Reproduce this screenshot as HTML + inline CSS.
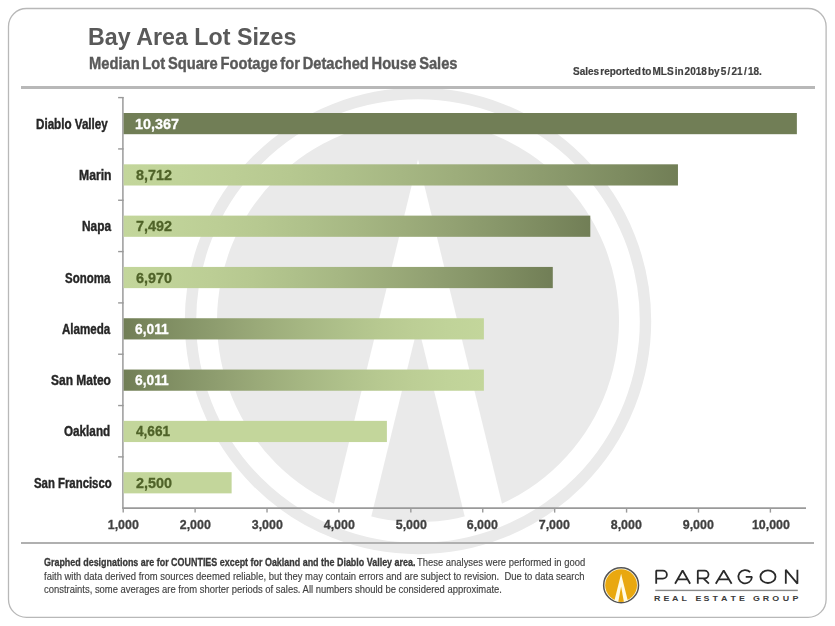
<!DOCTYPE html>
<html><head><meta charset="utf-8"><style>
html,body{margin:0;padding:0;background:#fff;}
body{width:835px;height:626px;position:relative;overflow:hidden;font-family:"Liberation Sans",sans-serif;}
</style></head><body>
<svg width="835" height="626" style="position:absolute;left:0;top:0">
<defs><mask id="am"><rect width="835" height="626" fill="#fff"/><polygon points="418,159.5 549.9,700 286.1,700" fill="#000"/><polygon points="418,325 509.5,700 326.5,700" fill="#fff"/></mask></defs>
<circle cx="418" cy="321" r="227.5" fill="none" stroke="#eaeaea" stroke-width="11.399999999999977"/>
<circle cx="418" cy="321" r="201" fill="#eaeaea" mask="url(#am)"/>
</svg>
<svg width="835" height="626" style="position:absolute;left:0;top:0"><rect x="8.5" y="8.5" width="817.6" height="608.9" rx="18" ry="18" fill="none" stroke="#b8b8b8" stroke-width="1.3"/></svg>
<div style="position:absolute;left:21.2px;top:86px;width:793.5px;height:2.8px;background:#b8b8b8"></div>
<div style="position:absolute;left:21.2px;top:541.7px;width:793.2px;height:2.6px;background:#b0b0b0"></div>
<svg width="835" height="626" style="position:absolute;left:0;top:0"><g stroke="#9a9a9a" fill="none"><line x1="122.9" y1="97.0" x2="122.9" y2="508.2" stroke-width="1.5"/><line x1="122.2" y1="508.1" x2="806" y2="508.1" stroke-width="1.7"/><line x1="118.1" y1="97.60" x2="123.6" y2="97.60" stroke-width="1.4"/><line x1="118.1" y1="148.93" x2="123.6" y2="148.93" stroke-width="1.4"/><line x1="118.1" y1="200.25" x2="123.6" y2="200.25" stroke-width="1.4"/><line x1="118.1" y1="251.58" x2="123.6" y2="251.58" stroke-width="1.4"/><line x1="118.1" y1="302.90" x2="123.6" y2="302.90" stroke-width="1.4"/><line x1="118.1" y1="354.23" x2="123.6" y2="354.23" stroke-width="1.4"/><line x1="118.1" y1="405.55" x2="123.6" y2="405.55" stroke-width="1.4"/><line x1="118.1" y1="456.88" x2="123.6" y2="456.88" stroke-width="1.4"/><line x1="123.20" y1="508" x2="123.20" y2="512.6" stroke-width="1.4"/><line x1="195.11" y1="508" x2="195.11" y2="512.6" stroke-width="1.4"/><line x1="267.02" y1="508" x2="267.02" y2="512.6" stroke-width="1.4"/><line x1="338.93" y1="508" x2="338.93" y2="512.6" stroke-width="1.4"/><line x1="410.84" y1="508" x2="410.84" y2="512.6" stroke-width="1.4"/><line x1="482.75" y1="508" x2="482.75" y2="512.6" stroke-width="1.4"/><line x1="554.66" y1="508" x2="554.66" y2="512.6" stroke-width="1.4"/><line x1="626.57" y1="508" x2="626.57" y2="512.6" stroke-width="1.4"/><line x1="698.48" y1="508" x2="698.48" y2="512.6" stroke-width="1.4"/><line x1="770.39" y1="508" x2="770.39" y2="512.6" stroke-width="1.4"/></g></svg>
<svg width="835" height="626" style="position:absolute;left:0;top:0"><defs><linearGradient id="gl2d" x1="0" y1="0" x2="1" y2="0"><stop offset="0.00" stop-color="rgb(195,214,155)"/><stop offset="0.10" stop-color="rgb(192,211,153)"/><stop offset="0.20" stop-color="rgb(188,206,149)"/><stop offset="0.30" stop-color="rgb(182,200,144)"/><stop offset="0.40" stop-color="rgb(174,192,138)"/><stop offset="0.50" stop-color="rgb(166,183,131)"/><stop offset="0.60" stop-color="rgb(157,173,123)"/><stop offset="0.70" stop-color="rgb(147,162,115)"/><stop offset="0.80" stop-color="rgb(136,151,106)"/><stop offset="0.90" stop-color="rgb(125,139,96)"/><stop offset="1.00" stop-color="rgb(113,126,86)"/></linearGradient><linearGradient id="gd2l" x1="0" y1="0" x2="1" y2="0"><stop offset="0.00" stop-color="rgb(113,126,86)"/><stop offset="0.10" stop-color="rgb(125,139,96)"/><stop offset="0.20" stop-color="rgb(136,151,106)"/><stop offset="0.30" stop-color="rgb(147,162,115)"/><stop offset="0.40" stop-color="rgb(157,173,123)"/><stop offset="0.50" stop-color="rgb(166,183,131)"/><stop offset="0.60" stop-color="rgb(174,192,138)"/><stop offset="0.70" stop-color="rgb(182,200,144)"/><stop offset="0.80" stop-color="rgb(188,206,149)"/><stop offset="0.90" stop-color="rgb(192,211,153)"/><stop offset="1.00" stop-color="rgb(195,214,155)"/></linearGradient></defs><rect x="123.6" y="113.00" width="673.27" height="21.2" fill="#717e56"/><rect x="123.6" y="164.31" width="554.36" height="21.2" fill="url(#gl2d)"/><rect x="123.6" y="215.62" width="466.70" height="21.2" fill="url(#gl2d)"/><rect x="123.6" y="266.93" width="429.19" height="21.2" fill="url(#gl2d)"/><rect x="123.6" y="318.24" width="360.29" height="21.2" fill="url(#gd2l)"/><rect x="123.6" y="369.55" width="360.29" height="21.2" fill="url(#gd2l)"/><rect x="123.6" y="420.86" width="263.29" height="21.2" fill="#c3d69b"/><rect x="123.6" y="472.17" width="108.03" height="21.2" fill="#c3d69b"/></svg>
<div style="position:absolute;left:87.68px;top:26.00px;white-space:nowrap;color:#595959;transform-origin:0 0;transform:scaleX(1.0101);font-size:23px;line-height:23px;font-weight:bold;">Bay Area Lot Sizes</div>
<div style="position:absolute;left:88.52px;top:55.00px;white-space:nowrap;color:#595959;transform-origin:0 0;transform:scaleX(0.8902);font-size:16.5px;line-height:16.5px;font-weight:bold;word-spacing:-1.5px;-webkit-text-stroke:0.4px #595959;">Median Lot Square Footage for Detached House Sales</div>
<div style="position:absolute;left:573.16px;top:66.00px;white-space:nowrap;color:#404040;transform-origin:0 0;transform:scaleX(0.9537);font-size:10.5px;line-height:10.5px;font-weight:bold;word-spacing:-1.8px;-webkit-text-stroke:0.2px #404040;">Sales reported to MLS in 2018 by 5<span style="padding:0 1.3px">/</span>21<span style="padding:0 1.3px">/</span>18.</div>
<div style="position:absolute;left:134.89px;top:117.00px;white-space:nowrap;color:#ffffff;transform-origin:0 0;transform:scaleX(0.9888);font-size:14.5px;line-height:14.5px;font-weight:bold;-webkit-text-stroke:0.3px #ffffff;">10,367</div>
<div style="position:absolute;left:36.20px;top:117.00px;white-space:nowrap;color:#262626;transform-origin:0 0;transform:scaleX(0.8023);font-size:14.5px;line-height:14.5px;font-weight:bold;-webkit-text-stroke:0.4px #262626;">Diablo Valley</div>
<div style="position:absolute;left:135.63px;top:168.00px;white-space:nowrap;color:#4f6228;transform-origin:0 0;transform:scaleX(0.9887);font-size:14.5px;line-height:14.5px;font-weight:bold;-webkit-text-stroke:0.3px #4f6228;">8,712</div>
<div style="position:absolute;left:78.87px;top:168.00px;white-space:nowrap;color:#262626;transform-origin:0 0;transform:scaleX(0.8403);font-size:14.5px;line-height:14.5px;font-weight:bold;-webkit-text-stroke:0.4px #262626;">Marin</div>
<div style="position:absolute;left:135.50px;top:219.00px;white-space:nowrap;color:#4f6228;transform-origin:0 0;transform:scaleX(0.9922);font-size:14.5px;line-height:14.5px;font-weight:bold;-webkit-text-stroke:0.3px #4f6228;">7,492</div>
<div style="position:absolute;left:81.59px;top:219.00px;white-space:nowrap;color:#262626;transform-origin:0 0;transform:scaleX(0.8171);font-size:14.5px;line-height:14.5px;font-weight:bold;-webkit-text-stroke:0.4px #262626;">Napa</div>
<div style="position:absolute;left:135.63px;top:271.00px;white-space:nowrap;color:#4f6228;transform-origin:0 0;transform:scaleX(0.9922);font-size:14.5px;line-height:14.5px;font-weight:bold;-webkit-text-stroke:0.3px #4f6228;">6,970</div>
<div style="position:absolute;left:65.30px;top:271.00px;white-space:nowrap;color:#262626;transform-origin:0 0;transform:scaleX(0.7913);font-size:14.5px;line-height:14.5px;font-weight:bold;-webkit-text-stroke:0.4px #262626;">Sonoma</div>
<div style="position:absolute;left:135.29px;top:322.00px;white-space:nowrap;color:#ffffff;transform-origin:0 0;transform:scaleX(0.9495);font-size:14.5px;line-height:14.5px;font-weight:bold;-webkit-text-stroke:0.3px #ffffff;">6,011</div>
<div style="position:absolute;left:61.70px;top:322.00px;white-space:nowrap;color:#262626;transform-origin:0 0;transform:scaleX(0.7984);font-size:14.5px;line-height:14.5px;font-weight:bold;-webkit-text-stroke:0.4px #262626;">Alameda</div>
<div style="position:absolute;left:135.29px;top:373.00px;white-space:nowrap;color:#ffffff;transform-origin:0 0;transform:scaleX(0.9495);font-size:14.5px;line-height:14.5px;font-weight:bold;-webkit-text-stroke:0.3px #ffffff;">6,011</div>
<div style="position:absolute;left:51.19px;top:373.00px;white-space:nowrap;color:#262626;transform-origin:0 0;transform:scaleX(0.8264);font-size:14.5px;line-height:14.5px;font-weight:bold;-webkit-text-stroke:0.4px #262626;">San Mateo</div>
<div style="position:absolute;left:135.88px;top:424.00px;white-space:nowrap;color:#4f6228;transform-origin:0 0;transform:scaleX(0.9394);font-size:14.5px;line-height:14.5px;font-weight:bold;-webkit-text-stroke:0.3px #4f6228;">4,661</div>
<div style="position:absolute;left:64.20px;top:424.00px;white-space:nowrap;color:#262626;transform-origin:0 0;transform:scaleX(0.8071);font-size:14.5px;line-height:14.5px;font-weight:bold;-webkit-text-stroke:0.4px #262626;">Oakland</div>
<div style="position:absolute;left:135.63px;top:476.00px;white-space:nowrap;color:#4f6228;transform-origin:0 0;transform:scaleX(0.9922);font-size:14.5px;line-height:14.5px;font-weight:bold;-webkit-text-stroke:0.3px #4f6228;">2,500</div>
<div style="position:absolute;left:33.90px;top:476.00px;white-space:nowrap;color:#262626;transform-origin:0 0;transform:scaleX(0.7838);font-size:14.5px;line-height:14.5px;font-weight:bold;-webkit-text-stroke:0.4px #262626;">San Francisco</div>
<div style="position:absolute;left:106.93px;top:518.00px;white-space:nowrap;color:#404040;transform-origin:50% 0;transform:scaleX(0.9550);font-size:13px;line-height:13px;font-weight:bold;-webkit-text-stroke:0.3px #404040;">1,000</div>
<div style="position:absolute;left:178.84px;top:518.00px;white-space:nowrap;color:#404040;transform-origin:50% 0;transform:scaleX(0.9550);font-size:13px;line-height:13px;font-weight:bold;-webkit-text-stroke:0.3px #404040;">2,000</div>
<div style="position:absolute;left:250.75px;top:518.00px;white-space:nowrap;color:#404040;transform-origin:50% 0;transform:scaleX(0.9550);font-size:13px;line-height:13px;font-weight:bold;-webkit-text-stroke:0.3px #404040;">3,000</div>
<div style="position:absolute;left:322.66px;top:518.00px;white-space:nowrap;color:#404040;transform-origin:50% 0;transform:scaleX(0.9550);font-size:13px;line-height:13px;font-weight:bold;-webkit-text-stroke:0.3px #404040;">4,000</div>
<div style="position:absolute;left:394.57px;top:518.00px;white-space:nowrap;color:#404040;transform-origin:50% 0;transform:scaleX(0.9550);font-size:13px;line-height:13px;font-weight:bold;-webkit-text-stroke:0.3px #404040;">5,000</div>
<div style="position:absolute;left:466.48px;top:518.00px;white-space:nowrap;color:#404040;transform-origin:50% 0;transform:scaleX(0.9550);font-size:13px;line-height:13px;font-weight:bold;-webkit-text-stroke:0.3px #404040;">6,000</div>
<div style="position:absolute;left:538.39px;top:518.00px;white-space:nowrap;color:#404040;transform-origin:50% 0;transform:scaleX(0.9550);font-size:13px;line-height:13px;font-weight:bold;-webkit-text-stroke:0.3px #404040;">7,000</div>
<div style="position:absolute;left:610.30px;top:518.00px;white-space:nowrap;color:#404040;transform-origin:50% 0;transform:scaleX(0.9550);font-size:13px;line-height:13px;font-weight:bold;-webkit-text-stroke:0.3px #404040;">8,000</div>
<div style="position:absolute;left:682.21px;top:518.00px;white-space:nowrap;color:#404040;transform-origin:50% 0;transform:scaleX(0.9550);font-size:13px;line-height:13px;font-weight:bold;-webkit-text-stroke:0.3px #404040;">9,000</div>
<div style="position:absolute;left:750.51px;top:518.00px;white-space:nowrap;color:#404040;transform-origin:50% 0;transform:scaleX(0.9550);font-size:13px;line-height:13px;font-weight:bold;-webkit-text-stroke:0.3px #404040;">10,000</div>
<div style="position:absolute;left:43.99px;top:557.00px;white-space:nowrap;color:#383838;transform-origin:0 0;transform:scaleX(0.8510);font-size:10.5px;line-height:10.5px;font-weight:bold;-webkit-text-stroke:0.3px #383838;">Graphed designations are for COUNTIES except for Oakland and the Diablo Valley area.</div>
<div style="position:absolute;left:417.39px;top:557.00px;white-space:nowrap;color:#404040;transform-origin:0 0;transform:scaleX(0.8975);font-size:10.5px;line-height:10.5px;font-weight:normal;-webkit-text-stroke:0.15px #404040;">These analyses were performed in good</div>
<div style="position:absolute;left:44.09px;top:571.00px;white-space:nowrap;color:#404040;transform-origin:0 0;transform:scaleX(0.9017);font-size:10.5px;line-height:10.5px;font-weight:normal;-webkit-text-stroke:0.15px #404040;">faith with data derived from sources deemed reliable, but they may contain errors and are subject to revision.&nbsp; Due to data search</div>
<div style="position:absolute;left:43.86px;top:584.00px;white-space:nowrap;color:#404040;transform-origin:0 0;transform:scaleX(0.8988);font-size:10.5px;line-height:10.5px;font-weight:normal;-webkit-text-stroke:0.15px #404040;">constraints, some averages are from shorter periods of sales. All numbers should be considered approximate.</div>
<svg width="835" height="626" style="position:absolute;left:0;top:0">
<circle cx="621.1" cy="585.2" r="17.45" fill="#fffbe6" stroke="#555555" stroke-width="1.5"/>
<circle cx="621.1" cy="585.2" r="15.899999999999999" fill="#e9a80f"/>
<defs><clipPath id="lc"><circle cx="621.1" cy="585.2" r="16.7"/></clipPath></defs>
<g clip-path="url(#lc)"><polygon points="621.1,573.8 628.6,604 613.6,604" fill="#fffbe6"/>
<polygon points="621.1,586.4 624.3000000000001,604 617.9,604" fill="#e9a80f"/></g>
</svg>
<svg width="835" height="626" style="position:absolute;left:0;top:0"><g fill="none" stroke="#2a2a2a" stroke-width="1.8" stroke-linejoin="bevel"><path d="M656.20,583.7 V570.70 H662.90 A4.0,3.95 0 0 1 662.90,578.60 H656.20"/><path d="M675.08,583.70 L682.60,570.50 L690.12,583.70 M677.19,579.4 H688.01"/><path d="M697.80,583.7 V570.70 H704.60 A3.9,3.85 0 0 1 704.60,578.40 H697.80 M703.40,578.40 L708.90,583.7"/><path d="M715.78,583.70 L723.70,570.50 L731.62,583.70 M718.01,579.4 H729.39"/><path d="M750.17,572.23 A6.75,6.65 0 1 0 751.90,576.95 H745.75"/><path d="M760.40,576.7 A7.55,6.30 0 1 0 775.50,576.7 A7.55,6.30 0 1 0 760.40,576.7"/><path d="M785.80,583.7 V569.80 L797.40,583.70 V569.8"/></g><rect x="655.3" y="589.7" width="142.5" height="1.4" fill="#8a8a8a"/><text x="653.95" y="601.0" font-family="Liberation Sans" font-weight="bold" font-size="7.4" fill="#3a3a3a" transform="translate(653.95,0) scale(1.2,1) translate(-653.95,0)">R</text><text x="663.5500000000001" y="601.0" font-family="Liberation Sans" font-weight="bold" font-size="7.4" fill="#3a3a3a" transform="translate(663.5500000000001,0) scale(1.2,1) translate(-663.5500000000001,0)">E</text><text x="671.95" y="601.0" font-family="Liberation Sans" font-weight="bold" font-size="7.4" fill="#3a3a3a" transform="translate(671.95,0) scale(1.2,1) translate(-671.95,0)">A</text><text x="681.45" y="601.0" font-family="Liberation Sans" font-weight="bold" font-size="7.4" fill="#3a3a3a" transform="translate(681.45,0) scale(1.2,1) translate(-681.45,0)">L</text><text x="695.5500000000001" y="601.0" font-family="Liberation Sans" font-weight="bold" font-size="7.4" fill="#3a3a3a" transform="translate(695.5500000000001,0) scale(1.2,1) translate(-695.5500000000001,0)">E</text><text x="703.45" y="601.0" font-family="Liberation Sans" font-weight="bold" font-size="7.4" fill="#3a3a3a" transform="translate(703.45,0) scale(1.2,1) translate(-703.45,0)">S</text><text x="712.45" y="601.0" font-family="Liberation Sans" font-weight="bold" font-size="7.4" fill="#3a3a3a" transform="translate(712.45,0) scale(1.2,1) translate(-712.45,0)">T</text><text x="721.0500000000001" y="601.0" font-family="Liberation Sans" font-weight="bold" font-size="7.4" fill="#3a3a3a" transform="translate(721.0500000000001,0) scale(1.2,1) translate(-721.0500000000001,0)">A</text><text x="730.45" y="601.0" font-family="Liberation Sans" font-weight="bold" font-size="7.4" fill="#3a3a3a" transform="translate(730.45,0) scale(1.2,1) translate(-730.45,0)">T</text><text x="739.0500000000001" y="601.0" font-family="Liberation Sans" font-weight="bold" font-size="7.4" fill="#3a3a3a" transform="translate(739.0500000000001,0) scale(1.2,1) translate(-739.0500000000001,0)">E</text><text x="753.0500000000001" y="601.0" font-family="Liberation Sans" font-weight="bold" font-size="7.4" fill="#3a3a3a" transform="translate(753.0500000000001,0) scale(1.2,1) translate(-753.0500000000001,0)">G</text><text x="762.75" y="601.0" font-family="Liberation Sans" font-weight="bold" font-size="7.4" fill="#3a3a3a" transform="translate(762.75,0) scale(1.2,1) translate(-762.75,0)">R</text><text x="772.1500000000001" y="601.0" font-family="Liberation Sans" font-weight="bold" font-size="7.4" fill="#3a3a3a" transform="translate(772.1500000000001,0) scale(1.2,1) translate(-772.1500000000001,0)">O</text><text x="782.85" y="601.0" font-family="Liberation Sans" font-weight="bold" font-size="7.4" fill="#3a3a3a" transform="translate(782.85,0) scale(1.2,1) translate(-782.85,0)">U</text><text x="792.5500000000001" y="601.0" font-family="Liberation Sans" font-weight="bold" font-size="7.4" fill="#3a3a3a" transform="translate(792.5500000000001,0) scale(1.2,1) translate(-792.5500000000001,0)">P</text></svg>
</body></html>
